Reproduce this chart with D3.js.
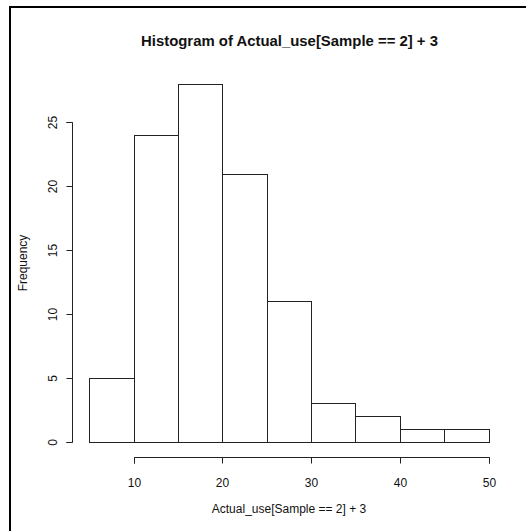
<!DOCTYPE html>
<html>
<head>
<meta charset="utf-8">
<script src="https://cdn.jsdelivr.net/npm/d3@7"></script>
<style>
html,body{margin:0;padding:0;background:#fff;}
svg{display:block;}
text{font-family:"Liberation Sans", Arial, sans-serif;fill:#111;}
</style>
</head>
<body>
<script>
const breaks = [5, 10, 15, 20, 25, 30, 35, 40, 45, 50];
const counts = [5, 24, 28, 21, 11, 3, 2, 1, 1];
const xTicks = [10, 20, 30, 40, 50];
const yTicks = [0, 5, 10, 15, 20, 25];
const title = "Histogram of Actual_use[Sample == 2] + 3";
const xLabel = "Actual_use[Sample == 2] + 3";
const yLabel = "Frequency";

const W = 526, H = 531;
const svg = d3.select("body").append("svg").attr("width", W).attr("height", H);

// frame lines (top and left)
svg.append("line").attr("x1", 9).attr("x2", W).attr("y1", 7).attr("y2", 7)
  .attr("stroke", "#000").attr("stroke-width", 2);
svg.append("line").attr("x1", 10).attr("x2", 10).attr("y1", 6).attr("y2", H)
  .attr("stroke", "#000").attr("stroke-width", 2);

// scales: usr extended by 4%
const xmin = 5, xmax = 50, ymax = d3.max(counts);
const xr = (xmax - xmin) * 0.04, yr = ymax * 0.04;
const px = v => 133.5 + (v - 10) * (355 / 40);
const py = v => 441.5 - v * (319 / 25);
const x = d3.scaleLinear().domain([xmin - xr, xmax + xr]).range([px(xmin - xr), px(xmax + xr)]);
const y = d3.scaleLinear().domain([-yr, ymax + yr]).range([py(-yr), py(ymax + yr)]);

const stroke = "#222";
const bins = counts.map((c, i) => ({x0: breaks[i], x1: breaks[i + 1], c}));

svg.append("g").selectAll("rect").data(bins).join("rect")
  .attr("x", d => Math.round(x(d.x0)) + 0.5)
  .attr("y", d => Math.round(y(d.c)) + 0.5)
  .attr("width", d => Math.round(x(d.x1)) - Math.round(x(d.x0)))
  .attr("height", d => Math.round(y(0)) - Math.round(y(d.c)))
  .attr("fill", "none").attr("stroke", stroke).attr("stroke-width", 1);

// x axis
const xAxisY = 457;
const gx = svg.append("g").attr("transform", `translate(0.5,${xAxisY + 0.5})`)
  .call(d3.axisBottom(x).tickValues(xTicks).tickSize(6).tickPadding(15).tickFormat(d3.format("d")));
gx.selectAll("path, line").attr("stroke", stroke);
gx.select(".domain").attr("d", `M${Math.round(x(10))},6V0H${Math.round(x(50))}V6`);
gx.selectAll(".tick").attr("transform", d => `translate(${Math.round(x(d))},0)`);
gx.selectAll("text").attr("font-size", 12).attr("fill", "#111")
  .attr("font-family", "Liberation Sans, Arial, sans-serif");

// y axis
const yAxisX = 72;
const gy = svg.append("g").attr("transform", `translate(${yAxisX + 0.5},0.5)`)
  .call(d3.axisLeft(y).tickValues(yTicks).tickSize(6).tickPadding(11).tickFormat(d3.format("d")));
gy.selectAll("path, line").attr("stroke", stroke);
gy.select(".domain").attr("d", `M-6,${Math.round(y(0))}H0V${Math.round(y(25))}H-6`);
gy.selectAll(".tick").attr("transform", d => `translate(0,${Math.round(y(d))})`);
gy.selectAll("text").attr("font-size", 12).attr("fill", "#111")
  .attr("font-family", "Liberation Sans, Arial, sans-serif")
  .attr("transform", "rotate(-90)")
  .attr("x", 0).attr("y", -16).attr("dy", 0)
  .attr("text-anchor", "middle");

// title
svg.append("text").attr("x", 289.5).attr("y", 46)
  .attr("text-anchor", "middle").attr("font-size", 14.9).attr("font-weight", "bold")
  .text(title);

// x label
svg.append("text").attr("x", 289).attr("y", 513)
  .attr("text-anchor", "middle").attr("font-size", 12)
  .text(xLabel);

// y label
svg.append("text").attr("transform", `translate(27,263) rotate(-90)`)
  .attr("text-anchor", "middle").attr("font-size", 12)
  .text(yLabel);
</script>
</body>
</html>
